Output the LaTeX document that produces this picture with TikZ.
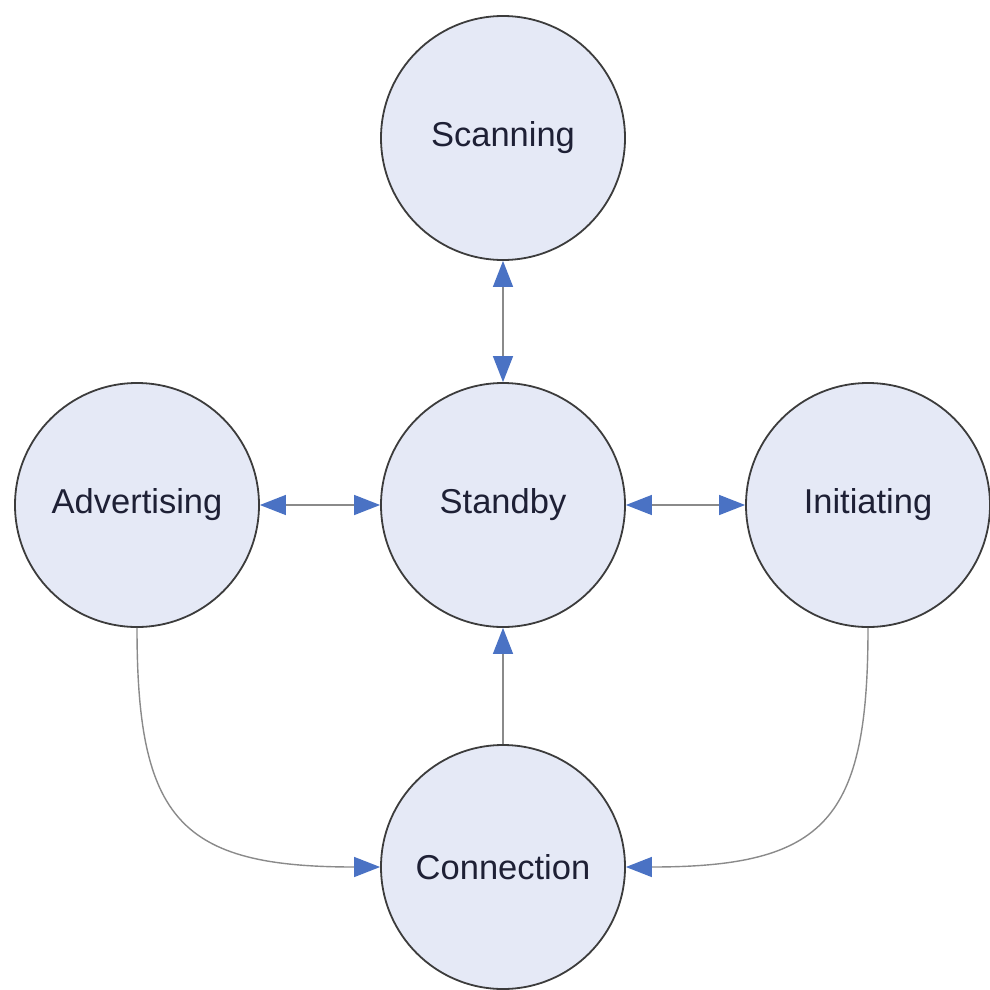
\documentclass[tikz,border=0pt]{standalone}
\usepackage{fontspec}
\setmainfont{Liberation Sans}
\usetikzlibrary{arrows.meta}
\definecolor{statefill}{HTML}{E5E9F6}
\definecolor{stateline}{HTML}{3C3C3C}
\definecolor{conn}{HTML}{8A8A8A}
\definecolor{tipblue}{HTML}{4A72C4}
\definecolor{txt}{HTML}{1E2035}
\begin{document}
\begin{tikzpicture}[x=1pt,y=-1pt,
  state/.style={circle,draw=stateline,line width=1.8pt,fill=statefill,minimum size=244pt,inner sep=0pt,
    font=\fontsize{34.5}{40}\selectfont,text=txt},
  link/.style={draw=conn,line width=1.4pt,
    arrows={-Triangle[length=26pt,width=20pt,color=tipblue]}},
  biLink/.style={draw=conn,line width=1.4pt,
    arrows={Triangle[length=26pt,width=20pt,color=tipblue]-Triangle[length=26pt,width=20pt,color=tipblue]}}]
\useasboundingbox (0,0) rectangle (990,990);
\node[state] (scan) at (503,138) {Scanning};
\node[state] (stby) at (503,505) {Standby};
\node[state] (adv) at (137,505) {Advertising};
\node[state] (init) at (868,505) {Initiating};
\node[state] (conn) at (503,867) {Connection};
\draw[biLink] (scan) -- (stby);
\draw[biLink] (adv) -- (stby);
\draw[biLink] (stby) -- (init);
\draw[link] (conn) -- (stby);
\draw[link] (adv.south) .. controls (137,820) and (180,867) .. (conn.west);
\draw[link] (init.south) .. controls (868,820) and (826,867) .. (conn.east);
\end{tikzpicture}
\end{document}
